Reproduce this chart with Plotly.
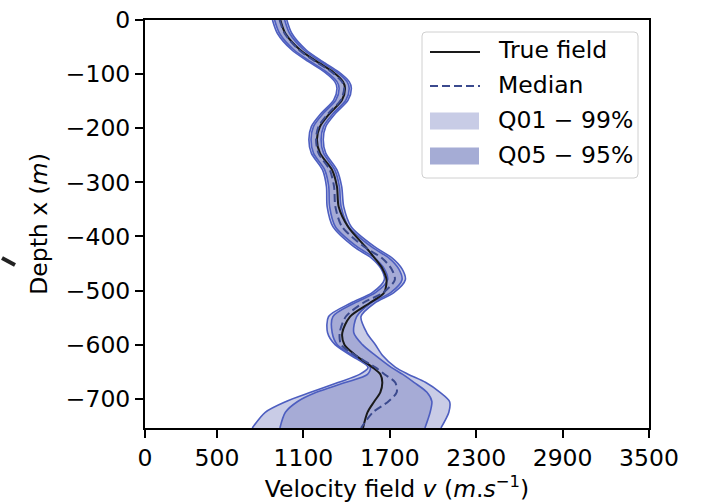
import plotly.graph_objects as go

# Depth samples (m) and velocity profiles (m/s)
depth = [0, -25, -55, -77, -96, -114, -126, -148, -172, -197, -221, -246, -277,
         -308, -345, -382, -419, -440, -460, -480, -504, -523, -548, -578,
         -600, -620, -642, -655, -670, -688, -705, -725, -754]

true_field = [940, 975, 1076, 1194, 1306, 1375, 1389, 1368, 1285, 1215, 1194,
              1215, 1299, 1333, 1345, 1410, 1530, 1595, 1650, 1677, 1660, 1560,
              1424, 1370, 1385, 1465, 1580, 1635, 1648, 1634, 1592, 1545, 1514]

median = [935, 970, 1068, 1185, 1295, 1368, 1383, 1360, 1275, 1205, 1188, 1205,
          1283, 1313, 1322, 1368, 1522, 1645, 1712, 1735, 1653, 1514, 1395,
          1352, 1362, 1462, 1600, 1665, 1738, 1748, 1690, 1583, 1500]

q05 = [900, 935, 1033, 1150, 1260, 1333, 1348, 1325, 1240, 1170, 1153, 1170,
       1248, 1276, 1282, 1322, 1472, 1595, 1662, 1685, 1600, 1455, 1305,
       1300, 1335, 1445, 1565, 1545, 1390, 1190, 1060, 975, 937]
q95 = [970, 1005, 1103, 1220, 1330, 1403, 1418, 1395, 1310, 1240, 1223, 1240,
       1318, 1350, 1362, 1414, 1572, 1695, 1762, 1785, 1706, 1570, 1470,
       1450, 1510, 1600, 1710, 1790, 1870, 1958, 1992, 1980, 1944]
q01 = [885, 920, 1018, 1135, 1245, 1318, 1333, 1310, 1225, 1155, 1138, 1155,
       1233, 1260, 1265, 1305, 1450, 1573, 1640, 1662, 1578, 1430, 1275,
       1268, 1320, 1430, 1549, 1490, 1340, 1150, 980, 835, 745]
q99 = [985, 1020, 1118, 1235, 1345, 1418, 1433, 1410, 1325, 1255, 1238, 1255,
       1333, 1366, 1380, 1432, 1594, 1717, 1785, 1808, 1728, 1595, 1500,
       1540, 1600, 1650, 1740, 1830, 1950, 2049, 2115, 2110, 2055]

x_ticks = [0, 500, 1100, 1700, 2300, 2900, 3500]
y_ticks = [0, -100, -200, -300, -400, -500, -600, -700]
legend_labels = ["True field", "Median", "Q01 − 99%", "Q05 − 95%"]

FONT = "DejaVu Sans"
FS = 23.5
EDGE = "#4d5ec0"
FILL = "rgba(104,115,186,0.36)"
LIGHT_PATCH = "#c8cce6"
DARK_PATCH = "#a5acd5"
MEDIAN_COLOR = "#3b4a8e"

W, H = 703, 503
L, R, T, B = 145, 54, 20, 75


def px_x(p):
    return (p - L) / (W - L - R)


def px_y(p):
    return (H - B - p) / (H - T - B)


def tick_text(v):
    return ("\u2212" + str(-v)) if v < 0 else str(v)


fig = go.Figure()

band_line = dict(color=EDGE, width=1.6, shape="spline", smoothing=0.8)
for lo, hi in [(q01, q99), (q05, q95)]:
    fig.add_trace(go.Scatter(x=lo, y=depth, mode="lines", line=band_line,
                             showlegend=False, hoverinfo="skip"))
    fig.add_trace(go.Scatter(x=hi, y=depth, mode="lines", line=band_line,
                             fill="tonextx", fillcolor=FILL,
                             showlegend=False, hoverinfo="skip"))

fig.add_trace(go.Scatter(x=true_field, y=depth, mode="lines",
                         line=dict(color="#1a1a1a", width=2, shape="spline", smoothing=0.8),
                         showlegend=False))
fig.add_trace(go.Scatter(x=median, y=depth, mode="lines",
                         line=dict(color=MEDIAN_COLOR, width=2, dash="8px,4px",
                                   shape="spline", smoothing=0.8),
                         showlegend=False))

axis_common = dict(showgrid=False, zeroline=False, ticks="outside", ticklen=8,
                   tickwidth=2, tickcolor="black", linecolor="black", linewidth=2,
                   mirror=True, showline=True, automargin=False,
                   tickfont=dict(family=FONT, size=FS, color="black"))

fig.update_xaxes(range=[0, 3500], tickvals=x_ticks,
                 ticktext=[tick_text(v) for v in x_ticks],
                 title=dict(text="Velocity field <i>v</i> (<i>m</i>.<i>s</i><sup>−1</sup>)",
                            font=dict(family=FONT, size=FS, color="black"), standoff=12),
                 **axis_common)
fig.update_yaxes(range=[-754, 0], tickvals=y_ticks,
                 ticktext=[tick_text(v) for v in y_ticks],
                 title=dict(text="Depth x (<i>m</i>)",
                            font=dict(family=FONT, size=FS, color="black"), standoff=12),
                 **axis_common)

# Legend box with rounded corners
x0, x1, y0, y1 = 422, 638, 32, 178
r = 4
rx = r / (W - L - R)
ry = r / (H - T - B)
X0, X1, Y0, Y1 = px_x(x0), px_x(x1), px_y(y0), px_y(y1)
path = (f"M {X0+rx},{Y0} L {X1-rx},{Y0} Q {X1},{Y0} {X1},{Y0-ry} "
        f"L {X1},{Y1+ry} Q {X1},{Y1} {X1-rx},{Y1} L {X0+rx},{Y1} "
        f"Q {X0},{Y1} {X0},{Y1+ry} L {X0},{Y0-ry} Q {X0},{Y0} {X0+rx},{Y0} Z")
shapes = [dict(type="path", xref="paper", yref="paper", path=path,
               line=dict(color="#d0d0d0", width=1), fillcolor="rgba(255,255,255,0.85)")]

rows = [52, 86, 121, 156]
shapes.append(dict(type="line", xref="paper", yref="paper",
                   x0=px_x(430), x1=px_x(480), y0=px_y(rows[0]), y1=px_y(rows[0]),
                   line=dict(color="#1a1a1a", width=2)))
shapes.append(dict(type="line", xref="paper", yref="paper",
                   x0=px_x(430), x1=px_x(480), y0=px_y(rows[1]), y1=px_y(rows[1]),
                   line=dict(color=MEDIAN_COLOR, width=2, dash="8px,4px")))
for yy, col in [(rows[2], LIGHT_PATCH), (rows[3], DARK_PATCH)]:
    shapes.append(dict(type="rect", xref="paper", yref="paper",
                       x0=px_x(430), x1=px_x(479), y0=px_y(yy - 8.5), y1=px_y(yy + 8.5),
                       line=dict(width=0), fillcolor=col))

# small dark stroke at the left edge
shapes.append(dict(type="line", xref="paper", yref="paper",
                   x0=px_x(2), y0=px_y(258), x1=px_x(15), y1=px_y(265),
                   line=dict(color="#222222", width=4)))

annotations = []
for yy, txt in zip(rows, legend_labels):
    annotations.append(dict(xref="paper", yref="paper", x=px_x(496), y=px_y(yy - 1.5),
                            text=txt, showarrow=False, xanchor="left", yanchor="middle",
                            font=dict(family=FONT, size=FS, color="black")))

fig.update_layout(width=W, height=H, margin=dict(l=L, r=R, t=T, b=B),
                  plot_bgcolor="white", paper_bgcolor="white",
                  shapes=shapes, annotations=annotations, showlegend=False)

fig.write_html("out.html")
